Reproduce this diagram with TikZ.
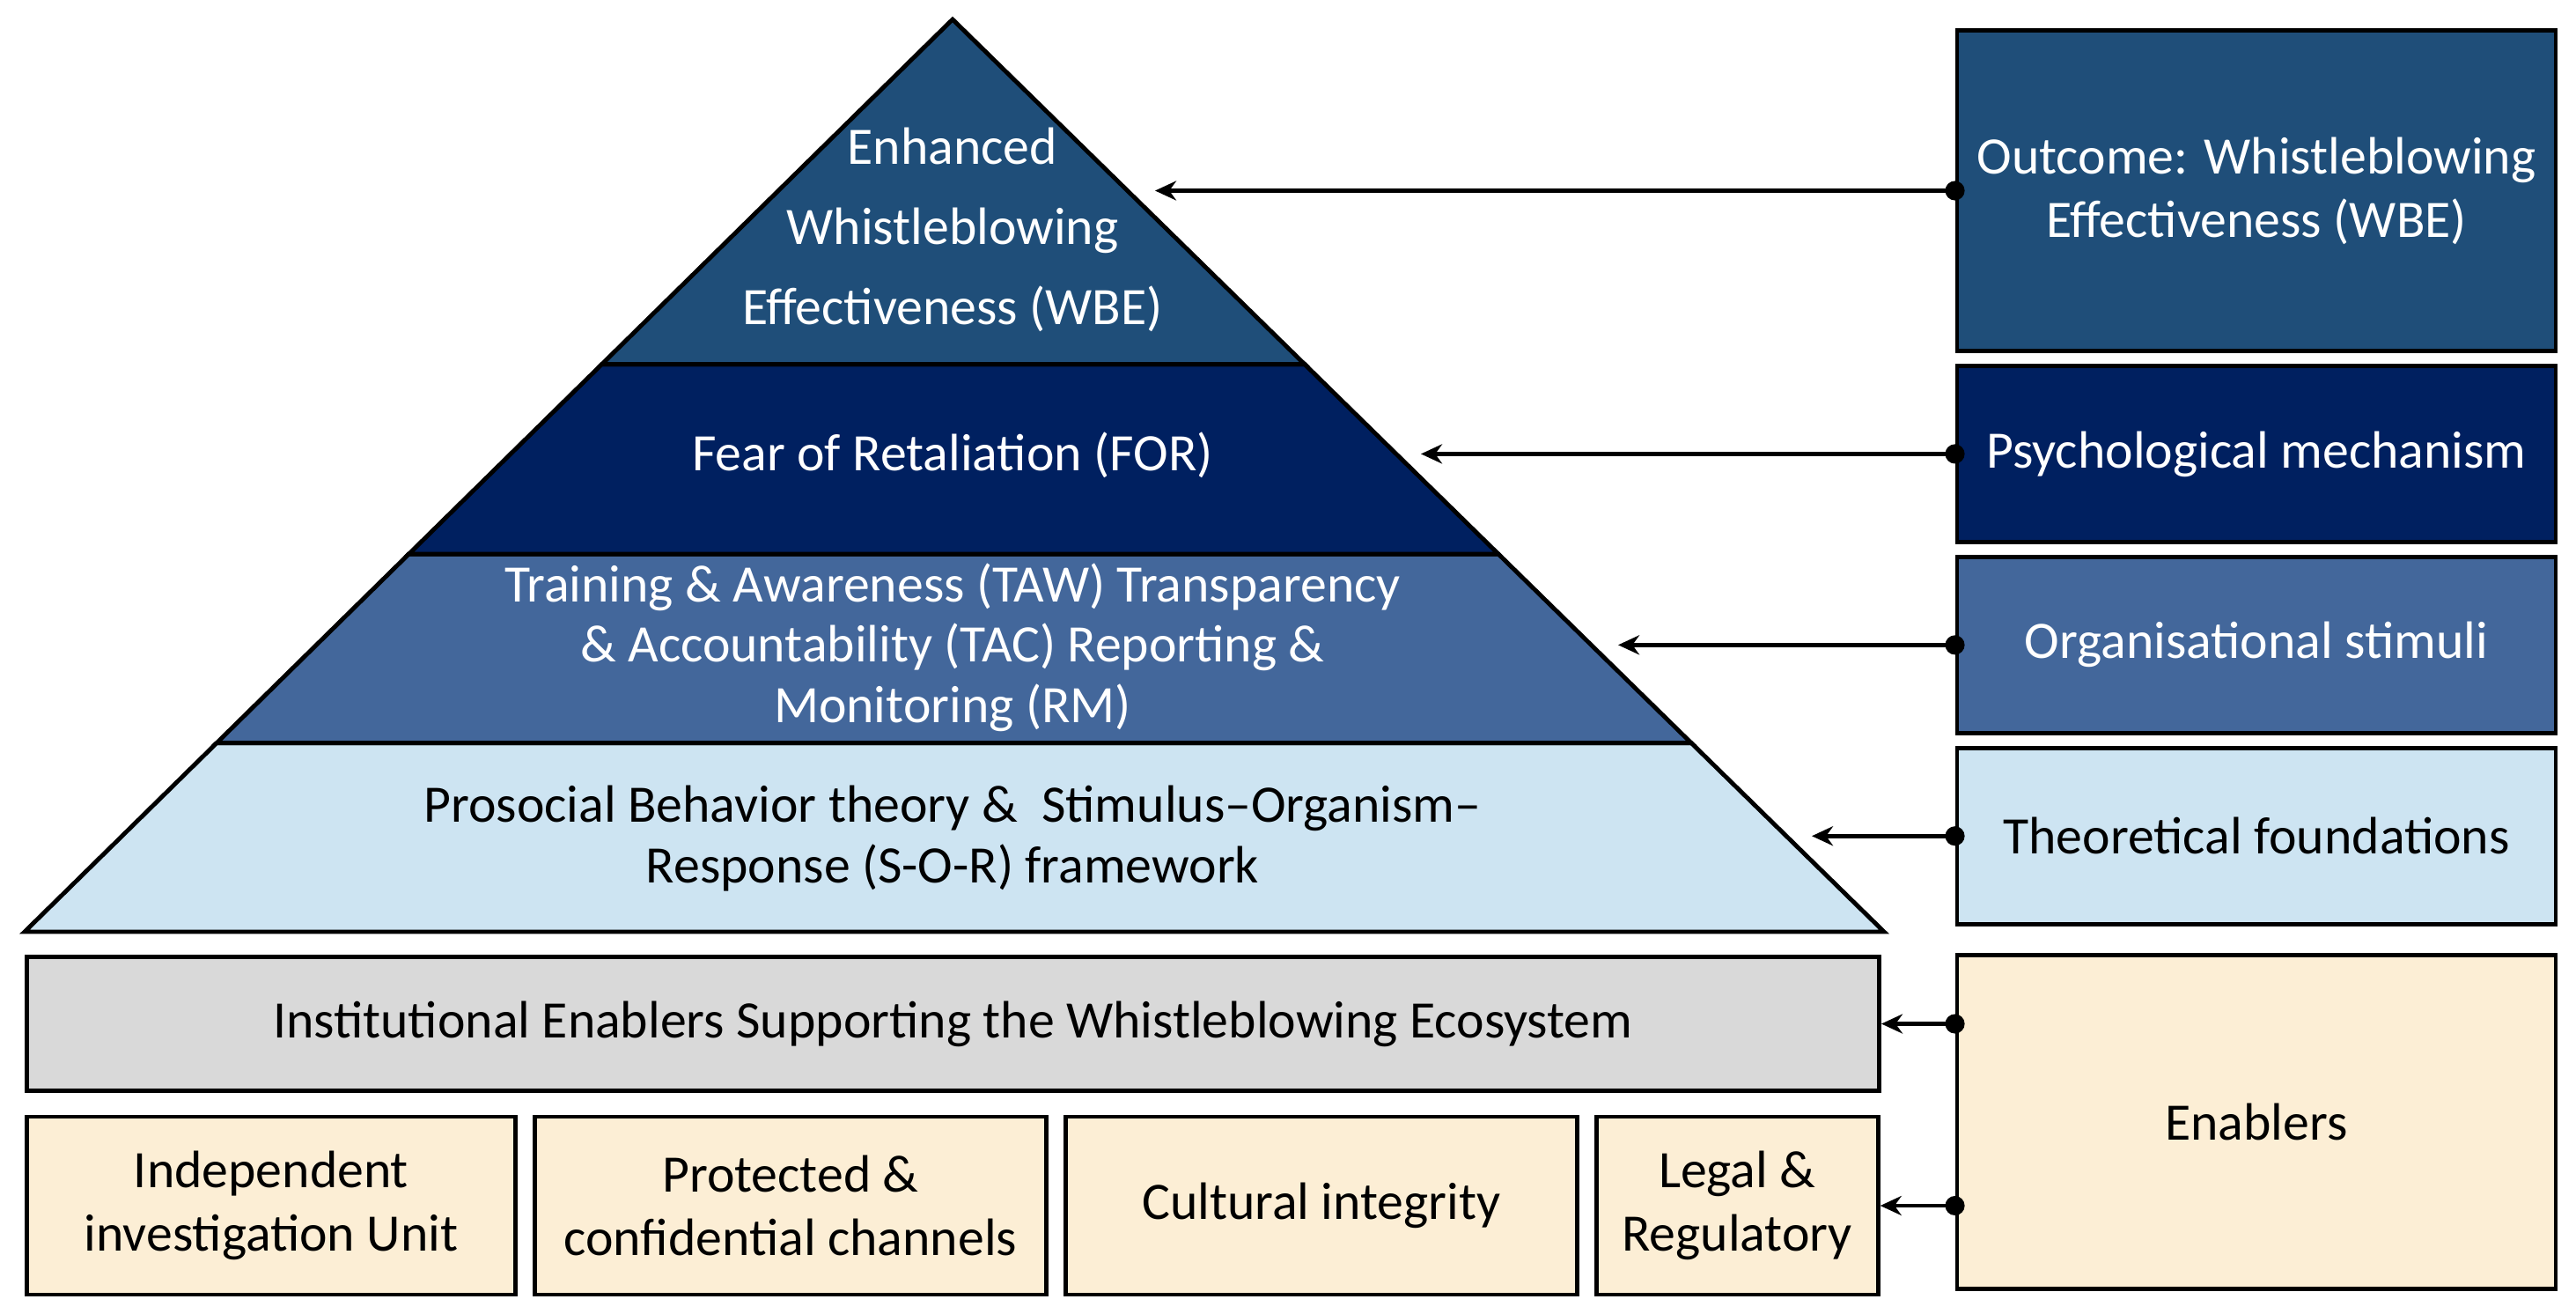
\documentclass[tikz,border=0pt]{standalone}
\usepackage{fontspec}
\setmainfont{Carlito}
\usetikzlibrary{arrows.meta,positioning,calc}
\definecolor{wbeblue}{HTML}{1F4E79}
\definecolor{fornavy}{HTML}{002060}
\definecolor{tawblue}{HTML}{43679B}
\definecolor{sorblue}{HTML}{CDE4F2}
\definecolor{enabgrey}{HTML}{D9D9D9}
\definecolor{enabcream}{HTML}{FCEED5}

\begin{document}
\begin{tikzpicture}[
  node distance=0.12cm and 0.17cm,
  layer/.style={draw=black, line width=1.4pt, line join=miter},
  layertext/.style={align=center, font=\fontsize{17}{19.5}\selectfont},
  sidebox/.style={draw, line width=1.4pt, minimum width=6.80cm, minimum height=2.00cm,
                  align=center, inner sep=0pt, font=\fontsize{17}{20.5}\selectfont},
  basebox/.style={draw, line width=1.4pt, fill=enabcream, minimum height=2.02cm,
                  align=center, inner sep=0pt, font=\fontsize{17}{20.5}\selectfont},
  arrow/.style={{Circle[length=2.2mm]}-{Stealth[length=2.4mm, width=2.2mm]},
                line width=1.3pt, shorten <=-1.1mm}
]
\useasboundingbox (0,0) rectangle (29.26,-14.92);

% pyramid
\coordinate (apex) at (10.82,-0.22);
\coordinate (bl) at (0.28,-10.58);
\coordinate (br) at (21.40,-10.58);
\coordinate (l1) at ($(apex)!0.378!(bl)$);
\coordinate (r1) at ($(apex)!0.378!(br)$);
\coordinate (l2) at ($(apex)!0.586!(bl)$);
\coordinate (r2) at ($(apex)!0.586!(br)$);
\coordinate (l3) at ($(apex)!0.793!(bl)$);
\coordinate (r3) at ($(apex)!0.793!(br)$);

\filldraw[layer, fill=sorblue] (l3) -- (r3) -- (br) -- (bl) -- cycle;
\filldraw[layer, fill=tawblue] (l2) -- (r2) -- (r3) -- (l3) -- cycle;
\filldraw[layer, fill=fornavy] (l1) -- (r1) -- (r2) -- (l2) -- cycle;
\filldraw[layer, fill=wbeblue] (apex) -- (r1) -- (l1) -- cycle;

\node[layertext, text=white, font=\fontsize{17}{26}\selectfont] (wbe) at (10.82,-2.61)
  {Enhanced\\Whistleblowing\\Effectiveness (WBE)};
\node[layertext, text=white] (for) at (10.82,-5.17) {Fear of Retaliation (FOR)};
\node[layertext, text=white] (taw) at (10.82,-7.35)
  {Training \& Awareness (TAW) Transparency\\\& Accountability (TAC) Reporting \&\\Monitoring (RM)};
\node[layertext] (sor) at (10.82,-9.52)
  {Prosocial Behavior theory \&\ \ Stimulus–Organism–\\Response (S-O-R) framework};

% enablers
\node[basebox, fill=enabgrey, minimum width=21.04cm, minimum height=1.52cm] (ecosys) at (10.825,-11.625)
  {Institutional Enablers Supporting the Whistleblowing Ecosystem};
\node[basebox, minimum width=5.55cm] (unit) at (3.08,-13.69) {Independent\\investigation Unit};
\node[basebox, minimum width=5.81cm, right=of unit] (channels) {Protected \&\\confidential channels};
\node[basebox, minimum width=5.81cm, right=of channels] (culture) {Cultural integrity};
\node[basebox, minimum width=3.20cm, right=of culture] (legal) {Legal \&\\Regulatory};

% side labels
\node[sidebox, fill=wbeblue, text=white, minimum height=3.64cm] (outcome) at (25.63,-2.165)
  {Outcome: Whistleblowing\\Effectiveness (WBE)};
\node[sidebox, fill=fornavy, text=white, below=of outcome] (psych) {Psychological mechanism};
\node[sidebox, fill=tawblue, text=white, below=of psych] (stimuli) {Organisational stimuli};
\node[sidebox, fill=sorblue, below=of stimuli] (theory) {Theoretical foundations};
\node[sidebox, fill=enabcream, minimum height=3.79cm, below=0.3cm of theory] (enablers) {Enablers};

\coordinate (wbein) at (13.12,0);
\coordinate (forin) at (16.14,0);
\coordinate (tawin) at (18.38,0);
\coordinate (sorin) at (20.58,0);

\draw[arrow] (outcome.west) -- (wbein |- outcome.west);
\draw[arrow] (psych.west) -- (forin |- psych.west);
\draw[arrow] (stimuli.west) -- (tawin |- stimuli.west);
\draw[arrow] (theory.west) -- (sorin |- theory.west);
\draw[arrow] (enablers.west |- ecosys.east) -- (ecosys.east);
\draw[arrow] (enablers.west |- legal.east) -- (legal.east);
\end{tikzpicture}
\end{document}
